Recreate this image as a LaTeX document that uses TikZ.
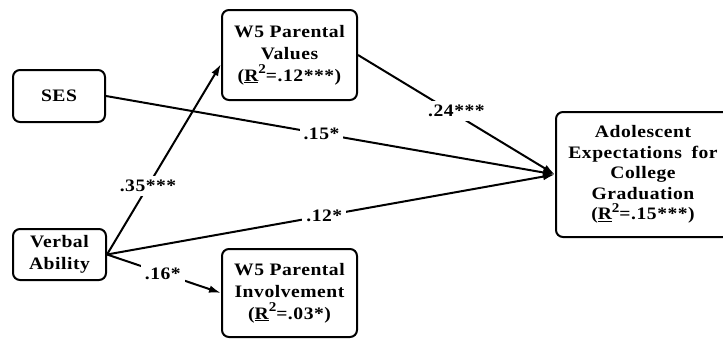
\documentclass[tikz,border=0pt]{standalone}
\usepackage{fontspec}
\setmainfont{Liberation Serif}[FakeStretch=1.12,LetterSpace=3]
\usetikzlibrary{arrows.meta}

% explained variance, with a large raised square sign
\newcommand{\rsq}[1]{(\underline{R}\raisebox{0.42em}{\fontsize{13.5}{13.5}\selectfont 2}=#1)}

\tikzset{
  var/.style={draw, line width=2pt, rounded corners=7pt, align=center,
    inner sep=0pt, font=\fontsize{17.5}{22}\selectfont\bfseries},
  path/.style={line width=2pt, -{Latex[length=12pt,width=7.5pt]}},
  coef/.style={fill=white, inner sep=4pt, font=\fontsize{17.5}{22}\selectfont\bfseries}
}

\begin{document}
\begin{tikzpicture}[x=1pt,y=-1pt]
  \useasboundingbox (0,0) rectangle (723,338);
  \clip (0,0) rectangle (723,338);

  % variables
  \node[var, minimum width=92pt, minimum height=52pt] (ses) at (59,96) {SES};
  \node[var, minimum width=93pt, minimum height=51pt] (verb) at (59.5,254.5) {Verbal\\Ability};
  \node[var, minimum width=135pt, minimum height=90pt] (val) at (289.5,55)
    {W5 Parental\\Values\\\rsq{.12***}};
  \node[var, minimum width=135pt, minimum height=88pt] (inv) at (289.5,293)
    {W5 Parental\\Involvement\\\rsq{.03*}};
  \node[var, minimum width=174pt, minimum height=125pt, font=\fontsize{17.5}{20.5}\selectfont\bfseries]
    (ado) at (643,174.5)
    {Adolescent\\Expectations\hspace{0.55em}for\\College\\Graduation\\\rsq{.15***}};

  % paths with coefficients
  \draw[path] (ses.east) -- node[coef, pos=0.48] {.15*} (ado.west);
  \draw[path] (verb.east) -- node[coef, pos=0.485] {.12*} (ado.west);
  \draw[path] (val.east) -- node[coef, pos=0.5, yshift=4pt] {.24***} (ado.west);
  \draw[path] (verb.east) -- node[coef, pos=0.36] {.35***} ([yshift=-9pt]val.west);
  \draw[path] (verb.east) -- node[coef, pos=0.49] {.16*} (inv.west);
\end{tikzpicture}
\end{document}
